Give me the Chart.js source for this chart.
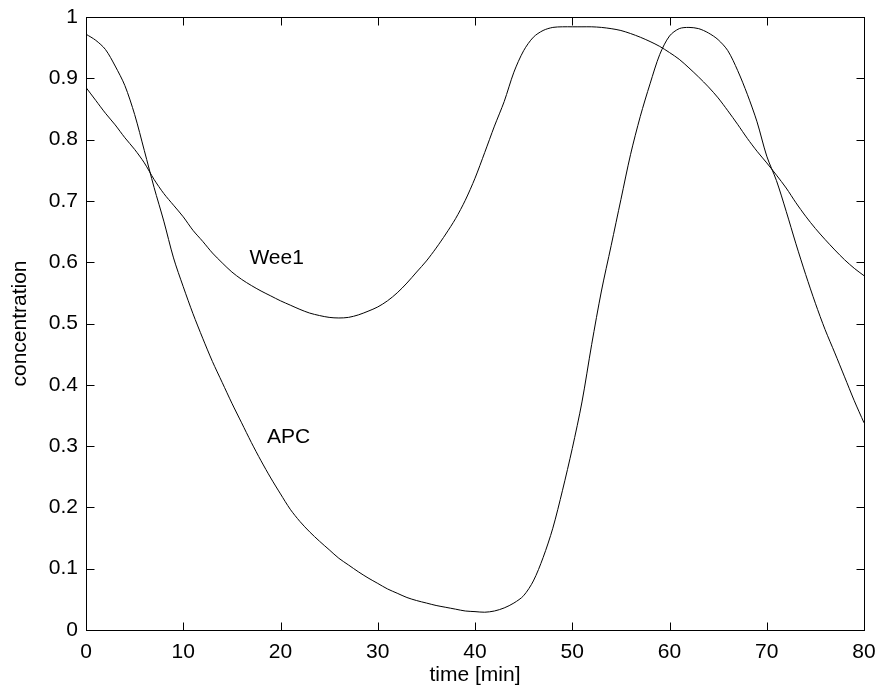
<!DOCTYPE html>
<html>
<head>
<meta charset="utf-8">
<script src="https://cdn.jsdelivr.net/npm/chart.js@4/dist/chart.umd.min.js"></script>
<style>
  html, body { margin: 0; padding: 0; background: #fff; }
  #wrap { width: 880px; height: 698px; }
</style>
</head>
<body>
<div id="wrap"><canvas id="c" width="880" height="698"></canvas></div>
<script>
// time [min], one sample per minute
const timeMin = [];
for (let t = 0; t <= 80; t++) timeMin.push(t);

// APC concentration
const apcValues = [
  0.972, 0.962, 0.947, 0.920, 0.888, 0.841, 0.782, 0.722, 0.667, 0.607,
  0.560, 0.516, 0.476, 0.438, 0.404, 0.370, 0.338, 0.306, 0.276, 0.248,
  0.222, 0.197, 0.177, 0.160, 0.145, 0.131, 0.117, 0.106, 0.095, 0.085,
  0.076, 0.067, 0.060, 0.053, 0.048, 0.044, 0.040, 0.037, 0.034, 0.031,
  0.030, 0.029, 0.031, 0.036, 0.044, 0.056, 0.080, 0.118, 0.166, 0.228,
  0.296, 0.372, 0.466, 0.553, 0.627, 0.702, 0.776, 0.838, 0.891, 0.939,
  0.969, 0.981, 0.983, 0.981, 0.974, 0.963, 0.945, 0.913, 0.874, 0.829,
  0.773, 0.733, 0.683, 0.630, 0.580, 0.533, 0.490, 0.452, 0.413, 0.374,
  0.338
];

// Wee1 concentration
const wee1Values = [
  0.885, 0.864, 0.843, 0.824, 0.803, 0.784, 0.762, 0.735, 0.712, 0.693,
  0.674, 0.652, 0.634, 0.615, 0.599, 0.584, 0.572, 0.562, 0.553, 0.545,
  0.537, 0.530, 0.523, 0.517, 0.513, 0.510, 0.509, 0.510, 0.514, 0.520,
  0.527, 0.537, 0.550, 0.566, 0.584, 0.602, 0.623, 0.646, 0.671, 0.701,
  0.737, 0.779, 0.822, 0.862, 0.910, 0.945, 0.967, 0.978, 0.983, 0.984,
  0.984, 0.984, 0.984, 0.983, 0.981, 0.978, 0.973, 0.967, 0.960, 0.952,
  0.942, 0.931, 0.917, 0.902, 0.886, 0.868, 0.847, 0.825, 0.802, 0.781,
  0.762, 0.742, 0.721, 0.697, 0.675, 0.655, 0.637, 0.620, 0.604, 0.590,
  0.578
];

const xTickLabels = ['0', '10', '20', '30', '40', '50', '60', '70', '80'];
const yTickLabels = ['0', '0.1', '0.2', '0.3', '0.4', '0.5', '0.6', '0.7', '0.8', '0.9', '1'];

// in-plot text labels (data coordinates)
const curveLabels = [
  { text: 'Wee1', x: 16.8, y: 0.607 },
  { text: 'APC',  x: 18.6, y: 0.315 }
];

const FONT = '"Liberation Sans", Arial, Helvetica, sans-serif';
const FS = 21;

const toPoints = (xs, ys) => xs.map((x, i) => ({ x: x, y: ys[i] }));

const framePlugin = {
  id: 'frame',
  afterDatasetsDraw(chart) {
    const { ctx, chartArea: a, scales: { x, y } } = chart;
    ctx.save();
    ctx.strokeStyle = '#000';
    ctx.lineWidth = 1;
    const L = Math.round(a.left) + 0.5, R = Math.round(a.right) + 0.5;
    const T = Math.round(a.top) + 0.5, B = Math.round(a.bottom) + 0.5;
    ctx.strokeRect(L, T, R - L, B - T);
    const tl = 8;
    ctx.beginPath();
    x.ticks.forEach(t => {
      const px = Math.round(x.getPixelForValue(t.value)) + 0.5;
      ctx.moveTo(px, B); ctx.lineTo(px, B - tl);
      ctx.moveTo(px, T); ctx.lineTo(px, T + tl);
    });
    y.ticks.forEach(t => {
      const py = Math.round(y.getPixelForValue(t.value)) + 0.5;
      ctx.moveTo(L, py); ctx.lineTo(L + tl, py);
      ctx.moveTo(R, py); ctx.lineTo(R - tl, py);
    });
    ctx.stroke();
    ctx.fillStyle = '#000';
    ctx.font = FS + 'px ' + FONT;
    ctx.textAlign = 'left';
    ctx.textBaseline = 'middle';
    curveLabels.forEach(l => {
      ctx.fillText(l.text, x.getPixelForValue(l.x), y.getPixelForValue(l.y));
    });
    ctx.restore();
  }
};

new Chart(document.getElementById('c'), {
  type: 'line',
  data: {
    datasets: [
      { label: 'APC', data: toPoints(timeMin, apcValues), borderColor: '#000', borderWidth: 1, pointRadius: 0, tension: 0.3, fill: false },
      { label: 'Wee1', data: toPoints(timeMin, wee1Values), borderColor: '#000', borderWidth: 1, pointRadius: 0, tension: 0.3, fill: false }
    ]
  },
  options: {
    responsive: false,
    animation: false,
    devicePixelRatio: 1,
    layout: { padding: { left: 0, right: 16, top: 17, bottom: 0 } },
    plugins: { legend: { display: false }, tooltip: { enabled: false } },
    scales: {
      x: {
        type: 'linear', min: 0, max: 80,
        grid: { display: false, drawTicks: false },
        border: { display: false },
        afterFit: s => { s.height = 68; s.paddingLeft = 0; s.paddingRight = 0; },
        afterBuildTicks: s => { s.ticks = xTickLabels.map(v => ({ value: Number(v) })); },
        ticks: {
          padding: 10, color: '#000', maxRotation: 0, autoSkip: false,
          font: { family: FONT, size: FS },
          callback: (v, i) => xTickLabels[i]
        },
        title: { display: true, text: 'time [min]', color: '#000', font: { family: FONT, size: FS }, padding: { top: 0, bottom: 10 } }
      },
      y: {
        type: 'linear', min: 0, max: 1,
        grid: { display: false, drawTicks: false },
        border: { display: false },
        afterFit: s => { s.width = 86; s.paddingTop = 0; s.paddingBottom = 0; },
        afterBuildTicks: s => { s.ticks = yTickLabels.map(v => ({ value: Number(v) })); },
        ticks: {
          padding: 8, color: '#000', autoSkip: false,
          font: { family: FONT, size: FS },
          callback: (v, i) => yTickLabels[i]
        },
        title: { display: true, text: 'concentration', color: '#000', font: { family: FONT, size: FS }, padding: { top: 8, bottom: 0 } }
      }
    }
  },
  plugins: [framePlugin]
});
</script>
</body>
</html>
